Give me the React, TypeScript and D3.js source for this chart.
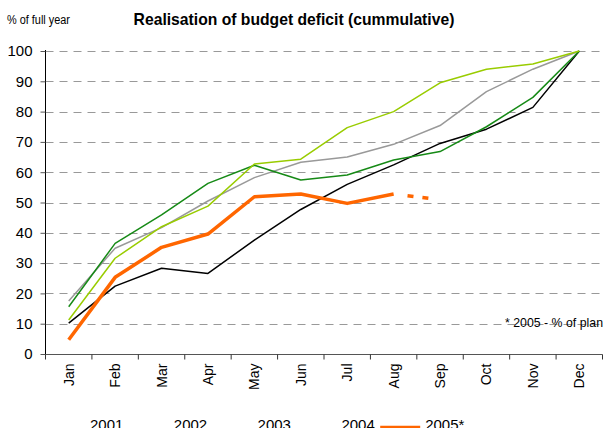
import React, { useRef, useEffect } from "react";
import * as d3 from "d3";

const months = ["Jan", "Feb", "Mar", "Apr", "May", "Jun", "Jul", "Aug", "Sep", "Oct", "Nov", "Dec"];
const yTicks = [0, 10, 20, 30, 40, 50, 60, 70, 80, 90, 100];

const s2001 = [10.2, 22.4, 28.3, 26.6, 37.6, 47.7, 56, 62.4, 69.5, 74.2, 81.4, 100];
const s2002 = [17.5, 34.9, 41.7, 50.5, 58.2, 63.3, 65, 69.2, 75.4, 86.6, 94, 100];
const s2003 = [15.6, 36.5, 45.9, 56.3, 62.3, 57.4, 59.1, 64, 66.8, 75, 84.7, 100];
const s2004 = [11.2, 31.6, 42, 48.8, 62.7, 64.3, 74.7, 80, 89.5, 94, 95.7, 100];
const s2005 = [4.7, 25.3, 35.2, 39.6, 51.9, 52.8, 49.7, 52.8];
// Aug actual -> Sep plan (dashed)
const s2005plan = [52.8, 50.9];
const planMonths = ["Aug", "Sep"];

const seriesNames = ["2001", "2002", "2003", "2004", "2005*"];
const seriesColors = ["#000000", "#999999", "#168a16", "#99cc00", "#ff6600"];

const FONT = "'Liberation Sans', Arial, sans-serif";

export default function App() {
  const svgRef = useRef<SVGSVGElement>(null);

  useEffect(() => {
    const svg = d3.select(svgRef.current);
    svg.selectAll("*").remove();

    const left = 45.5;
    const right = 602.5;
    const top = 51;
    const bottom = 354;

    const x = d3.scaleBand<string>().domain(months).range([left, right]);
    const y = d3.scaleLinear().domain([0, 100]).range([bottom, top]);
    const cx = (m: string) => (x(m) as number) + x.bandwidth() / 2;

    // title + axis caption
    svg.append("text")
      .attr("x", 294).attr("y", 25)
      .attr("text-anchor", "middle")
      .attr("font-family", FONT).attr("font-weight", "bold").attr("font-size", 15.7)
      .text("Realisation of budget deficit (cummulative)");

    svg.append("text")
      .attr("x", 7).attr("y", 24)
      .attr("font-family", FONT).attr("font-size", 12.5)
      .attr("textLength", 63).attr("lengthAdjust", "spacingAndGlyphs")
      .text("% of full year");

    // gridlines
    svg.append("g")
      .selectAll("line")
      .data(yTicks.filter(t => t > 0))
      .join("line")
      .attr("x1", left).attr("x2", 604)
      .attr("y1", d => Math.round(y(d)) + 0.5).attr("y2", d => Math.round(y(d)) + 0.5)
      .attr("stroke", "#999").attr("stroke-width", 1)
      .attr("stroke-dasharray", "8,6");

    // y axis
    const yAxis = d3.axisLeft(y).tickValues(yTicks).tickSize(5).tickPadding(8);
    const gy = svg.append("g").attr("transform", `translate(${left},0)`).call(yAxis);
    gy.select(".domain").attr("stroke", "#000").attr("d", `M0,${top - 1}V${bottom}`);
    gy.selectAll(".tick line").attr("stroke", "#555");
    gy.selectAll(".tick text").attr("font-family", FONT).attr("font-size", 15).attr("fill", "#000");

    // x axis
    const gx = svg.append("g").attr("transform", `translate(0,${bottom + 0.5})`);
    gx.append("line").attr("x1", left - 1).attr("x2", right).attr("stroke", "#555").attr("stroke-width", 1.2);
    gx.selectAll(".xt")
      .data([...months.map(m => x(m) as number), right])
      .join("line")
      .attr("class", "xt")
      .attr("x1", d => d).attr("x2", d => d)
      .attr("y1", 0).attr("y2", 5)
      .attr("stroke", "#333");
    gx.selectAll(".xl")
      .data(months)
      .join("text")
      .attr("class", "xl")
      .attr("transform", d => `translate(${cx(d) + 5},9) rotate(-90)`)
      .attr("text-anchor", "end")
      .attr("font-family", FONT).attr("font-size", 14)
      .text(d => d);

    // lines
    const lineGen = d3.line<[string, number]>()
      .x(d => cx(d[0]))
      .y(d => y(d[1]));

    const all = [s2001, s2002, s2003, s2004];
    all.forEach((s, i) => {
      svg.append("path")
        .datum(s.map((v, j) => [months[j], v] as [string, number]))
        .attr("fill", "none")
        .attr("stroke", seriesColors[i])
        .attr("stroke-width", 1.5)
        .attr("stroke-linejoin", "round")
        .attr("d", lineGen);
    });

    svg.append("path")
      .datum(s2005.map((v, j) => [months[j], v] as [string, number]))
      .attr("fill", "none")
      .attr("stroke", seriesColors[4])
      .attr("stroke-width", 3.5)
      .attr("stroke-linejoin", "round")
      .attr("d", lineGen);

    svg.append("path")
      .datum(s2005plan.map((v, j) => [planMonths[j], v] as [string, number]))
      .attr("fill", "none")
      .attr("stroke", seriesColors[4])
      .attr("stroke-width", 3.5)
      .attr("stroke-dasharray", "0,14,6,9,6,30")
      .attr("d", lineGen);

    svg.append("text")
      .attr("x", 505).attr("y", 327)
      .attr("font-family", FONT).attr("font-size", 13.5)
      .attr("textLength", 98).attr("lengthAdjust", "spacingAndGlyphs")
      .text("* 2005 - % of plan");

    // legend (partly below the bottom edge, as in the source)
    const lg = svg.append("g");
    seriesNames.forEach((name, i) => {
      const x0 = 45 + i * 83.8;
      const thick = i === 4;
      lg.append("line")
        .attr("x1", x0).attr("x2", x0 + 40)
        .attr("y1", thick ? 427 : 430).attr("y2", thick ? 427 : 430)
        .attr("stroke", seriesColors[i])
        .attr("stroke-width", thick ? 2.5 : 1.5);
      lg.append("text")
        .attr("x", x0 + 45).attr("y", 430)
        .attr("font-family", FONT).attr("font-size", 15)
        .text(name);
    });
  }, []);

  return (
    <div style={{ position: "absolute", left: 0, top: 0 }}>
      <svg ref={svgRef} width={605} height={428} style={{ display: "block", background: "#fff" }} />
    </div>
  );
}
